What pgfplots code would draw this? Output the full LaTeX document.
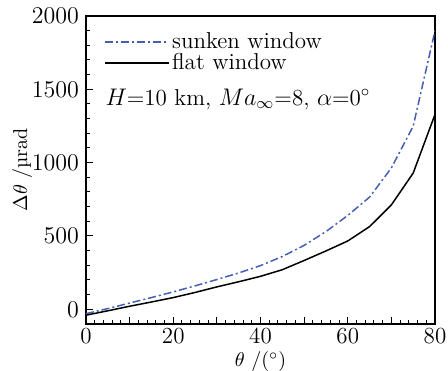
\documentclass[border=0pt]{standalone}
\usepackage{pgfplots}
\pgfplotsset{compat=1.18}
\definecolor{sunk}{RGB}{70,95,180}
\begin{document}
\begin{tikzpicture}
\begin{axis}[
  scale only axis,
  width=174.5pt, height=154pt,
  xmin=0, xmax=80, ymin=-100, ymax=2000,
  xtick={0,10,...,80}, xticklabels={0,,20,,40,,60,,80},
  ytick={0,500,...,2000},
  /pgf/number format/1000 sep={},
  minor x tick num=4, minor y tick num=4,
  tick align=inside, tick pos=left,
  major tick length=3.5pt, minor tick length=2pt,
  axis line style={line width=0.7pt},
  every tick/.style={black, line width=0.5pt},
  tick label style={font=\fontsize{11.5}{13}\selectfont},
  xticklabel style={yshift=1.5pt},
  label style={font=\fontsize{11.5}{13}\selectfont},
  xlabel={$\theta$ /($^\circ$)},
  ylabel={$\Delta\theta$ /µrad},
  every axis x label/.style={at={(axis description cs:0.5,-0.123)}, anchor=center},
  every axis y label/.style={at={(axis description cs:-0.183,0.5)}, rotate=90, anchor=center},
  legend style={draw=none, fill=none, at={(axis cs:4.2,1905)}, anchor=north west,
    font=\fontsize{11.5}{13}\selectfont, inner sep=0pt, row sep=-1pt,
    nodes={inner sep=1pt}},
  legend cell align=left,
  legend image code/.code={\draw[#1] (0pt,0pt) -- (32pt,0pt);},
]
\addplot[sunk, line width=0.75pt, dash pattern=on 4pt off 1.5pt on 1pt off 1.5pt] coordinates {
 (0,-30) (5,5) (10,43) (15,80) (20,119) (25,160) (30,203) (35,248) (40,298) (45,360)
 (50,436) (55,530) (60,640) (65,765) (70,964) (75,1249) (80,1900)};
\addlegendentry{sunken window}
\addplot[black, line width=0.75pt] coordinates {
 (0,-40) (5,-10) (10,21) (15,50) (20,80) (25,115) (30,153) (35,188) (40,225) (45,270)
 (50,333) (55,398) (60,466) (65,564) (70,712) (75,929) (80,1329)};
\addlegendentry{flat window}
\node[anchor=west, font=\fontsize{11.5}{13}\selectfont, inner sep=0pt] at (axis cs:4.4,1432)
  {$H$=10 km, $Ma_\infty$=8, $\alpha$=0$^\circ$};
\end{axis}
\pgfresetboundingbox
\path ([xshift=-43pt,yshift=-23.5pt]current axis.south west) rectangle ([xshift=6.5pt,yshift=8pt]current axis.north east);
\end{tikzpicture}
\end{document}
